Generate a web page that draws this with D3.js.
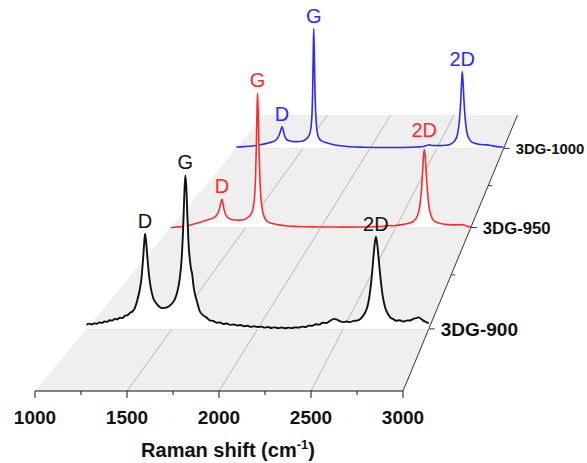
<!DOCTYPE html>
<html>
<head>
<meta charset="utf-8">
<script src="https://cdn.jsdelivr.net/npm/d3@7"></script>
<style>
  body { margin: 0; background: #fff; }
  svg { display: block; font-family: "Liberation Sans", Arial, sans-serif; }
</style>
</head>
<body>
<div id="chart"></div>
<script>
// samples, front to back
var samples = ["3DG-900", "3DG-950", "3DG-1000"];
var lineColors = ["#111111", "#ff2a2a", "#2a2aff"];

// peak names and approx. positions (cm-1)
var peakNames = ["D", "G", "2D"];
var peakShifts = [1342, 1579, 2690];

var xTicks = [1000, 1500, 2000, 2500, 3000];

// [raman shift, intensity (G = 100)]
var spec900 = [
  [1000, 2.6], [1015, 3.4], [1030, 2.9], [1045, 3.6], [1060, 3.3], [1075, 4.2],
  [1090, 3.9], [1105, 4.8], [1120, 4.6], [1135, 5.6], [1150, 5.4], [1165, 6.5],
  [1180, 6.3], [1195, 7.3], [1210, 7.0], [1225, 8.6], [1240, 8.9], [1255, 10.5],
  [1270, 11.5], [1282, 13.5], [1295, 18], [1310, 25], [1320, 32],
  [1330, 45], [1337, 56], [1342, 62], [1348, 57], [1356, 46], [1365, 35],
  [1375, 27], [1390, 20], [1405, 17], [1425, 14.5], [1445, 13.5], [1470, 14],
  [1495, 16], [1515, 19], [1530, 24], [1545, 33], [1556, 46], [1564, 64],
  [1571, 86], [1577, 100], [1583, 93], [1589, 74], [1596, 56], [1604, 45],
  [1611, 39], [1617, 36], [1625, 28], [1635, 22], [1645, 18], [1660, 12],
  [1680, 9], [1700, 7.5], [1720, 5.6], [1740, 5.2], [1760, 4.0], [1780, 4.2],
  [1800, 3.2], [1820, 3.5], [1840, 2.6], [1860, 2.9], [1880, 2.2], [1900, 2.5],
  [1920, 1.7], [1940, 2.0], [1960, 1.3], [1980, 1.7], [2000, 1.2], [2020, 1.5],
  [2040, 0.8], [2060, 1.2], [2080, 0.6], [2100, 1.0], [2120, 0.5], [2140, 0.9],
  [2160, 0.4], [2180, 0.8], [2200, 0.5], [2220, 1.0], [2240, 0.8], [2260, 1.5],
  [2280, 1.2], [2300, 2.1], [2320, 2.0], [2340, 3.0], [2360, 2.8], [2380, 4.0],
  [2400, 3.8], [2420, 5.0], [2445, 6.5], [2460, 6.2], [2480, 5.0], [2500, 4.4],
  [2520, 4.8], [2540, 4.4], [2560, 5.2], [2580, 5.4], [2600, 6.5], [2625, 10],
  [2640, 14], [2650, 19], [2660, 27], [2670, 38], [2680, 51], [2691, 60],
  [2700, 54], [2710, 42], [2720, 31], [2730, 22], [2745, 14], [2760, 10],
  [2775, 7.5], [2790, 6.5], [2810, 5.3], [2830, 5.6], [2850, 4.8], [2870, 5.4],
  [2890, 5.5], [2910, 6.5], [2925, 7], [2940, 7.5], [2955, 6.5], [2970, 5.2],
  [2985, 4.4], [3000, 3.5]
];

var spec950 = [
  [1000, 0], [1050, 0.5], [1100, 1], [1150, 2.5], [1200, 4], [1240, 5.5],
  [1280, 7], [1305, 9], [1320, 12], [1330, 16], [1337, 19.5], [1342, 21],
  [1347, 19], [1355, 14], [1365, 10], [1380, 7.5], [1400, 6.2], [1430, 5.6],
  [1460, 5.5], [1490, 6], [1520, 8], [1540, 11], [1552, 16], [1560, 24],
  [1566, 38], [1571, 60], [1575, 84], [1579, 100], [1583, 88], [1587, 66],
  [1592, 44], [1598, 28], [1605, 18], [1615, 11], [1630, 6.5], [1650, 4],
  [1680, 3], [1720, 2], [1780, 1.2], [1850, 0.8], [1950, 0.5], [2050, 0.4],
  [2150, 0.3], [2250, 0.4], [2350, 0.6], [2420, 1], [2450, 1.5], [2480, 1.3],
  [2530, 2], [2580, 3], [2620, 5], [2645, 9], [2660, 16], [2670, 26],
  [2678, 40], [2684, 52], [2690, 58], [2696, 53], [2703, 40], [2712, 26],
  [2722, 15], [2735, 9], [2750, 5.5], [2770, 4], [2800, 3], [2850, 2.2],
  [2900, 2], [2940, 2.2], [2970, 1.2], [3000, 0.5]
];

var spec1000 = [
  [1000, 1.2], [1060, 1.5], [1120, 2], [1180, 3], [1228, 4.2], [1270, 5.5],
  [1300, 7.5], [1320, 11], [1332, 15], [1342, 18], [1350, 15.5], [1360, 11],
  [1372, 8], [1390, 6.5], [1420, 5.8], [1455, 5.6], [1490, 6], [1520, 7.5],
  [1545, 11], [1558, 17], [1566, 28], [1571, 48], [1575, 75], [1579, 100],
  [1583, 80], [1587, 55], [1592, 34], [1598, 21], [1606, 13], [1618, 8.5],
  [1640, 6], [1680, 4.5], [1730, 3], [1777, 2.2], [1850, 1.4], [1950, 1],
  [2050, 0.8], [2150, 0.7], [2250, 0.8], [2350, 1.2], [2400, 1.6], [2430, 2.6],
  [2445, 2.9], [2465, 2.4], [2520, 2.3], [2573, 2.6], [2610, 4], [2635, 6.5],
  [2655, 12], [2668, 22], [2677, 36], [2684, 52], [2690, 64], [2696, 56],
  [2703, 40], [2712, 25], [2722, 15], [2735, 9.5], [2755, 6], [2785, 4.2],
  [2830, 3.2], [2870, 2.9], [2910, 2.3], [2960, 1.4], [3000, 1]
];

var spectra = [spec900, spec950, spec1000];
var lineWidths = [1.9, 1.6, 1.6];

var W = 587, H = 463;
var svg = d3.select("#chart").append("svg")
    .attr("width", W)
    .attr("height", H);

// front plane scales
var x = d3.scaleLinear().domain([1000, 3000]).range([35, 403]);
var y = d3.scaleLinear().domain([0, 100]).range([391, 226]);
var z = d3.scalePoint().domain(samples).range([1, 5]);
var zMax = 6;

// simple one point perspective
var vp = [771, -496], dist = 13.28;
function proj(fx, fy, d) {
  var s = dist / (dist + d);
  return [vp[0] + (fx - vp[0]) * s, vp[1] + (fy - vp[1]) * s];
}
function scaleAt(d) { return dist / (dist + d); }

// floor
var floor = [proj(x(1000), y(0), 0), proj(x(3000), y(0), 0),
             proj(x(3000), y(0), zMax), proj(x(1000), y(0), zMax)];
svg.append("polygon")
    .attr("points", floor.map(function(p) { return p.join(","); }).join(" "))
    .attr("fill", "#efefef");

// grid lines along depth
[1500, 2000, 2500].forEach(function(t) {
  var a = proj(x(t), y(0), 0), b = proj(x(t), y(0), zMax);
  svg.append("line")
      .attr("x1", a[0]).attr("y1", a[1])
      .attr("x2", b[0]).attr("y2", b[1])
      .attr("stroke", "#a8a8a8")
      .attr("stroke-width", 0.8);
});

// level lines for each sample
samples.forEach(function(name) {
  var a = proj(x(1000), y(0), z(name)), b = proj(x(3000), y(0), z(name));
  svg.append("line")
      .attr("x1", a[0]).attr("y1", a[1])
      .attr("x2", b[0]).attr("y2", b[1])
      .attr("stroke", "#d4d4d4")
      .attr("stroke-width", 1);
});

// depth axis on the right
var r0 = proj(x(3000), y(0), 0), r1 = proj(x(3000), y(0), zMax);
svg.append("line")
    .attr("x1", r0[0]).attr("y1", r0[1])
    .attr("x2", r1[0]).attr("y2", r1[1])
    .attr("stroke", "#333")
    .attr("stroke-width", 1);
[2, 4].forEach(function(d) {
  var p = proj(x(3000), y(0), d);
  svg.append("line")
      .attr("x1", p[0]).attr("y1", p[1])
      .attr("x2", p[0] + 4).attr("y2", p[1])
      .attr("stroke", "#333");
});

// spectra, back to front
var order = d3.range(samples.length).reverse();
order.forEach(function(i) {
  var d = z(samples[i]);
  var data = spectra[i];
  var base = proj(0, y(0), d)[1];

  var area = d3.area()
      .x(function(p) { return proj(x(p[0]), y(p[1]), d)[0]; })
      .y0(base)
      .y1(function(p) { return proj(x(p[0]), y(p[1]), d)[1]; })
      .curve(d3.curveMonotoneX);
  var line = d3.line()
      .x(function(p) { return proj(x(p[0]), y(p[1]), d)[0]; })
      .y(function(p) { return proj(x(p[0]), y(p[1]), d)[1]; })
      .curve(d3.curveMonotoneX);

  svg.append("path").datum(data)
      .attr("d", area)
      .attr("fill", "#fff");
  svg.append("path").datum(data)
      .attr("d", line)
      .attr("fill", "none")
      .attr("stroke", lineColors[i])
      .attr("stroke-width", lineWidths[i])
      .attr("stroke-linejoin", "round");

  // peak labels
  peakNames.forEach(function(name, k) {
    var near = data.filter(function(p) { return Math.abs(p[0] - peakShifts[k]) < 30; });
    var top = d3.greatest(near, function(p) { return p[1]; });
    var pt = proj(x(top[0]), y(top[1]), d);
    var gap = (i === 1 && name === "2D") ? 12 : 6;
    svg.append("text")
        .attr("x", pt[0])
        .attr("y", pt[1] - gap)
        .attr("text-anchor", "middle")
        .attr("font-size", 20)
        .attr("fill", lineColors[i])
        .text(name);
  });

  // sample label on the depth axis
  var e = proj(x(3000), y(0), d);
  var s = scaleAt(d);
  svg.append("line")
      .attr("x1", e[0]).attr("y1", e[1])
      .attr("x2", e[0] + 6).attr("y2", e[1])
      .attr("stroke", "#333");
  svg.append("text")
      .attr("x", e[0] + 12)
      .attr("y", e[1])
      .attr("dy", "0.36em")
      .attr("font-size", 20.5 * s)
      .attr("font-weight", "bold")
      .attr("fill", "#111")
      .text(samples[i]);
});

// front x axis
var axis = svg.append("g").attr("transform", "translate(0," + y(0) + ")");
axis.append("line")
    .attr("x1", x(1000)).attr("x2", x(3000))
    .attr("stroke", "#111");
axis.selectAll(".major").data(xTicks).enter().append("line")
    .attr("x1", x).attr("x2", x)
    .attr("y1", 0).attr("y2", 7)
    .attr("stroke", "#111");
axis.selectAll(".minor").data(d3.range(1250, 3000, 500)).enter().append("line")
    .attr("x1", x).attr("x2", x)
    .attr("y1", 0).attr("y2", 4)
    .attr("stroke", "#111");
axis.selectAll(".lbl").data(xTicks).enter().append("text")
    .attr("x", x)
    .attr("y", 33)
    .attr("text-anchor", "middle")
    .attr("font-size", 19)
    .attr("font-weight", "bold")
    .attr("fill", "#111")
    .text(function(d) { return d; });

var title = svg.append("text")
    .attr("x", 228)
    .attr("y", 457)
    .attr("text-anchor", "middle")
    .attr("font-size", 20)
    .attr("font-weight", "bold")
    .attr("fill", "#111");
title.append("tspan").text("Raman shift (cm");
title.append("tspan").attr("font-size", 13).attr("dy", -8).text("-1");
title.append("tspan").attr("dy", 8).text(")");
</script>
</body>
</html>
